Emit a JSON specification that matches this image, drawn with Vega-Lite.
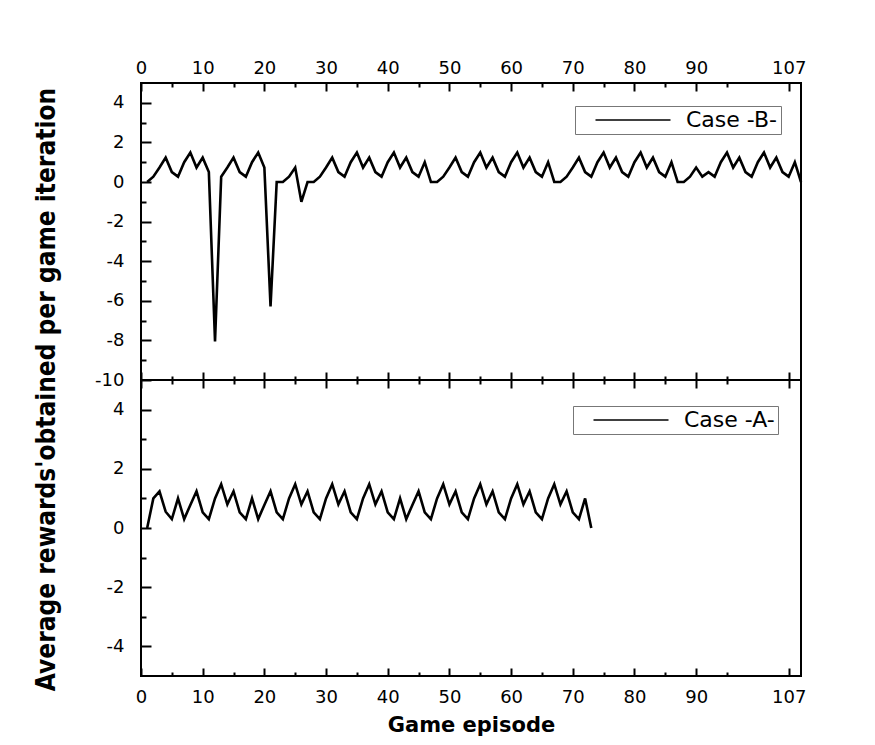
{
  "$schema": "https://vega.github.io/schema/vega-lite/v6.json",
  "background": "white",
  "padding": {"left": 32, "top": 58, "right": 20, "bottom": 8},
  "bounds": "flush",
  "config": {
    "view": {"stroke": "black", "strokeWidth": 2},
    "axis": {"grid": false, "domain": false, "tickColor": "black", "tickWidth": 2, "labelFont": "DejaVu Sans", "labelFontSize": 18, "labelColor": "black", "titleColor": "black", "labelFlush": false},
    "legend": {"orient": "none", "title": null, "strokeColor": "#777", "fillColor": "white", "padding": 3,
      "symbolType": "M-5,0H5", "symbolSize": 225, "symbolStrokeWidth": 1.5, "symbolOffset": 44, "labelOffset": 42,
      "labelFont": "DejaVu Sans", "labelFontSize": 22, "labelColor": "black"}
  },
  "datasets": {
    "caseB": [
      {"episode": 1, "reward": 0}, {"episode": 2, "reward": 0.27}, {"episode": 3, "reward": 0.73}, {"episode": 4, "reward": 1.23},
      {"episode": 5, "reward": 0.5}, {"episode": 6, "reward": 0.27}, {"episode": 7, "reward": 1.0}, {"episode": 8, "reward": 1.49},
      {"episode": 9, "reward": 0.73}, {"episode": 10, "reward": 1.23}, {"episode": 11, "reward": 0.5}, {"episode": 12, "reward": -8.05},
      {"episode": 13, "reward": 0.27}, {"episode": 14, "reward": 0.73}, {"episode": 15, "reward": 1.23}, {"episode": 16, "reward": 0.5},
      {"episode": 17, "reward": 0.27}, {"episode": 18, "reward": 1.0}, {"episode": 19, "reward": 1.49}, {"episode": 20, "reward": 0.73},
      {"episode": 21, "reward": -6.28}, {"episode": 22, "reward": 0}, {"episode": 23, "reward": 0}, {"episode": 24, "reward": 0.27},
      {"episode": 25, "reward": 0.73}, {"episode": 26, "reward": -1.0}, {"episode": 27, "reward": 0}, {"episode": 28, "reward": 0},
      {"episode": 29, "reward": 0.27}, {"episode": 30, "reward": 0.73}, {"episode": 31, "reward": 1.23}, {"episode": 32, "reward": 0.5},
      {"episode": 33, "reward": 0.27}, {"episode": 34, "reward": 1.0}, {"episode": 35, "reward": 1.49}, {"episode": 36, "reward": 0.73},
      {"episode": 37, "reward": 1.23}, {"episode": 38, "reward": 0.5}, {"episode": 39, "reward": 0.27}, {"episode": 40, "reward": 1.0},
      {"episode": 41, "reward": 1.49}, {"episode": 42, "reward": 0.73}, {"episode": 43, "reward": 1.23}, {"episode": 44, "reward": 0.5},
      {"episode": 45, "reward": 0.27}, {"episode": 46, "reward": 1.0}, {"episode": 47, "reward": 0}, {"episode": 48, "reward": 0},
      {"episode": 49, "reward": 0.27}, {"episode": 50, "reward": 0.73}, {"episode": 51, "reward": 1.23}, {"episode": 52, "reward": 0.5},
      {"episode": 53, "reward": 0.27}, {"episode": 54, "reward": 1.0}, {"episode": 55, "reward": 1.49}, {"episode": 56, "reward": 0.73},
      {"episode": 57, "reward": 1.23}, {"episode": 58, "reward": 0.5}, {"episode": 59, "reward": 0.27}, {"episode": 60, "reward": 1.0},
      {"episode": 61, "reward": 1.49}, {"episode": 62, "reward": 0.73}, {"episode": 63, "reward": 1.23}, {"episode": 64, "reward": 0.5},
      {"episode": 65, "reward": 0.27}, {"episode": 66, "reward": 1.0}, {"episode": 67, "reward": 0}, {"episode": 68, "reward": 0},
      {"episode": 69, "reward": 0.27}, {"episode": 70, "reward": 0.73}, {"episode": 71, "reward": 1.23}, {"episode": 72, "reward": 0.5},
      {"episode": 73, "reward": 0.27}, {"episode": 74, "reward": 1.0}, {"episode": 75, "reward": 1.49}, {"episode": 76, "reward": 0.73},
      {"episode": 77, "reward": 1.23}, {"episode": 78, "reward": 0.5}, {"episode": 79, "reward": 0.27}, {"episode": 80, "reward": 1.0},
      {"episode": 81, "reward": 1.49}, {"episode": 82, "reward": 0.73}, {"episode": 83, "reward": 1.23}, {"episode": 84, "reward": 0.5},
      {"episode": 85, "reward": 0.27}, {"episode": 86, "reward": 1.0}, {"episode": 87, "reward": 0}, {"episode": 88, "reward": 0},
      {"episode": 89, "reward": 0.27}, {"episode": 90, "reward": 0.73}, {"episode": 91, "reward": 0.27}, {"episode": 92, "reward": 0.5},
      {"episode": 93, "reward": 0.27}, {"episode": 94, "reward": 1.0}, {"episode": 95, "reward": 1.49}, {"episode": 96, "reward": 0.73},
      {"episode": 97, "reward": 1.23}, {"episode": 98, "reward": 0.5}, {"episode": 99, "reward": 0.27}, {"episode": 100, "reward": 1.0},
      {"episode": 101, "reward": 1.49}, {"episode": 102, "reward": 0.73}, {"episode": 103, "reward": 1.23}, {"episode": 104, "reward": 0.5},
      {"episode": 105, "reward": 0.27}, {"episode": 106, "reward": 1.0}, {"episode": 107, "reward": 0}
    ],
    "caseA": [
      {"episode": 1, "reward": 0}, {"episode": 2, "reward": 1.0}, {"episode": 3, "reward": 1.24}, {"episode": 4, "reward": 0.55},
      {"episode": 5, "reward": 0.3}, {"episode": 6, "reward": 1.0}, {"episode": 7, "reward": 0.3}, {"episode": 8, "reward": 0.78},
      {"episode": 9, "reward": 1.24}, {"episode": 10, "reward": 0.53}, {"episode": 11, "reward": 0.3}, {"episode": 12, "reward": 1.0},
      {"episode": 13, "reward": 1.48}, {"episode": 14, "reward": 0.8}, {"episode": 15, "reward": 1.24}, {"episode": 16, "reward": 0.53},
      {"episode": 17, "reward": 0.3}, {"episode": 18, "reward": 1.0}, {"episode": 19, "reward": 0.3}, {"episode": 20, "reward": 0.78},
      {"episode": 21, "reward": 1.24}, {"episode": 22, "reward": 0.53}, {"episode": 23, "reward": 0.3}, {"episode": 24, "reward": 1.0},
      {"episode": 25, "reward": 1.48}, {"episode": 26, "reward": 0.8}, {"episode": 27, "reward": 1.24}, {"episode": 28, "reward": 0.53},
      {"episode": 29, "reward": 0.3}, {"episode": 30, "reward": 1.0}, {"episode": 31, "reward": 1.48}, {"episode": 32, "reward": 0.8},
      {"episode": 33, "reward": 1.24}, {"episode": 34, "reward": 0.53}, {"episode": 35, "reward": 0.3}, {"episode": 36, "reward": 1.0},
      {"episode": 37, "reward": 1.48}, {"episode": 38, "reward": 0.8}, {"episode": 39, "reward": 1.24}, {"episode": 40, "reward": 0.53},
      {"episode": 41, "reward": 0.3}, {"episode": 42, "reward": 1.0}, {"episode": 43, "reward": 0.3}, {"episode": 44, "reward": 0.78},
      {"episode": 45, "reward": 1.24}, {"episode": 46, "reward": 0.53}, {"episode": 47, "reward": 0.3}, {"episode": 48, "reward": 1.0},
      {"episode": 49, "reward": 1.48}, {"episode": 50, "reward": 0.8}, {"episode": 51, "reward": 1.24}, {"episode": 52, "reward": 0.53},
      {"episode": 53, "reward": 0.3}, {"episode": 54, "reward": 1.0}, {"episode": 55, "reward": 1.48}, {"episode": 56, "reward": 0.8},
      {"episode": 57, "reward": 1.24}, {"episode": 58, "reward": 0.53}, {"episode": 59, "reward": 0.3}, {"episode": 60, "reward": 1.0},
      {"episode": 61, "reward": 1.48}, {"episode": 62, "reward": 0.8}, {"episode": 63, "reward": 1.24}, {"episode": 64, "reward": 0.53},
      {"episode": 65, "reward": 0.3}, {"episode": 66, "reward": 1.0}, {"episode": 67, "reward": 1.48}, {"episode": 68, "reward": 0.8},
      {"episode": 69, "reward": 1.24}, {"episode": 70, "reward": 0.53}, {"episode": 71, "reward": 0.3}, {"episode": 72, "reward": 1.0},
      {"episode": 73, "reward": 0.0}
    ]
  },
  "spacing": 0,
  "resolve": {"scale": {"color": "independent"}, "legend": {"color": "independent"}},
  "vconcat": [
    {
      "width": 660,
      "height": 297,
      "data": {"name": "caseB"},
      "resolve": {"axis": {"x": "independent", "y": "independent"}},
      "layer": [
        {
          "mark": {"type": "line", "strokeWidth": 2.6},
          "encoding": {
            "x": {"field": "episode", "type": "quantitative", "scale": {"domain": [0, 107], "nice": false, "zero": false},
              "axis": {"orient": "top", "values": [0, 10, 20, 30, 40, 50, 60, 70, 80, 90, 105], "labelExpr": "datum.value == 105 ? '107' : datum.label", "tickSize": -8, "labelPadding": 14, "title": null}},
            "y": {"field": "reward", "type": "quantitative", "scale": {"domain": [-10, 5], "nice": false, "zero": false},
              "axis": {"orient": "left", "values": [4, 2, 0, -2, -4, -6, -8, -10], "labelExpr": "toString(datum.value)", "tickSize": -10, "labelPadding": 27,
                "title": "Average rewards'obtained per game iteration", "titleFont": "DejaVu Sans Condensed, Liberation Sans Narrow, Roboto Condensed, Roboto", "titleFontSize": 26, "titleFontWeight": "bold",
                "titleX": -95, "titleY": 306, "titleBaseline": "middle", "titleAngle": -90}},
            "color": {"datum": "Case -B-", "type": "nominal", "scale": {"range": ["black"]},
              "legend": {"legendX": 434, "legendY": 23}}
          }
        },
        {
          "mark": {"type": "line", "strokeOpacity": 0},
          "encoding": {
            "x": {"field": "episode", "type": "quantitative", "axis": {"orient": "top", "values": [5, 15, 25, 35, 45, 55, 65, 75, 85, 95], "labels": false, "tickSize": -4, "title": null}},
            "y": {"field": "reward", "type": "quantitative", "axis": {"orient": "left", "values": [3, 1, -1, -3, -5, -7, -9], "labels": false, "tickSize": -5, "title": null}}
          }
        },
        {
          "mark": {"type": "line", "strokeOpacity": 0},
          "encoding": {
            "x": {"field": "episode", "type": "quantitative", "axis": {"orient": "bottom", "values": [0, 10, 20, 30, 40, 50, 60, 70, 80, 90, 105], "labels": false, "tickSize": -8, "title": null}},
            "y": {"field": "reward", "type": "quantitative", "axis": null}
          }
        },
        {
          "mark": {"type": "line", "strokeOpacity": 0},
          "encoding": {
            "x": {"field": "episode", "type": "quantitative", "axis": {"orient": "bottom", "values": [5, 15, 25, 35, 45, 55, 65, 75, 85, 95], "labels": false, "tickSize": -4, "title": null}},
            "y": {"field": "reward", "type": "quantitative", "axis": null}
          }
        }
      ]
    },
    {
      "width": 660,
      "height": 296,
      "data": {"name": "caseA"},
      "resolve": {"axis": {"x": "independent", "y": "independent"}},
      "layer": [
        {
          "mark": {"type": "line", "strokeWidth": 2.6},
          "encoding": {
            "x": {"field": "episode", "type": "quantitative", "scale": {"domain": [0, 107], "nice": false, "zero": false},
              "axis": {"orient": "bottom", "values": [0, 10, 20, 30, 40, 50, 60, 70, 80, 90, 105], "labelExpr": "datum.value == 105 ? '107' : datum.label", "tickSize": -8, "labelPadding": 20,
                "title": "Game episode", "titleFont": "DejaVu Sans", "titleFontSize": 21, "titleFontWeight": "bold", "titlePadding": 8}},
            "y": {"field": "reward", "type": "quantitative", "scale": {"domain": [-5, 5], "nice": false, "zero": false},
              "axis": {"orient": "left", "values": [4, 2, 0, -2, -4], "labelExpr": "toString(datum.value)", "tickSize": -10, "labelPadding": 27, "title": null}},
            "color": {"datum": "Case -A-", "type": "nominal", "scale": {"range": ["black"]},
              "legend": {"legendX": 432, "legendY": 26}}
          }
        },
        {
          "mark": {"type": "line", "strokeOpacity": 0},
          "encoding": {
            "x": {"field": "episode", "type": "quantitative", "axis": {"orient": "bottom", "values": [5, 15, 25, 35, 45, 55, 65, 75, 85, 95], "labels": false, "tickSize": -4, "title": null}},
            "y": {"field": "reward", "type": "quantitative", "axis": {"orient": "left", "values": [3, 1, -1, -3], "labels": false, "tickSize": -5, "title": null}}
          }
        },
        {
          "mark": {"type": "line", "strokeOpacity": 0},
          "encoding": {
            "x": {"field": "episode", "type": "quantitative", "axis": {"orient": "top", "values": [0, 10, 20, 30, 40, 50, 60, 70, 80, 90, 105], "labels": false, "tickSize": -8, "title": null}},
            "y": {"field": "reward", "type": "quantitative", "axis": null}
          }
        },
        {
          "mark": {"type": "line", "strokeOpacity": 0},
          "encoding": {
            "x": {"field": "episode", "type": "quantitative", "axis": {"orient": "top", "values": [5, 15, 25, 35, 45, 55, 65, 75, 85, 95], "labels": false, "tickSize": -4, "title": null}},
            "y": {"field": "reward", "type": "quantitative", "axis": null}
          }
        }
      ]
    }
  ]
}
